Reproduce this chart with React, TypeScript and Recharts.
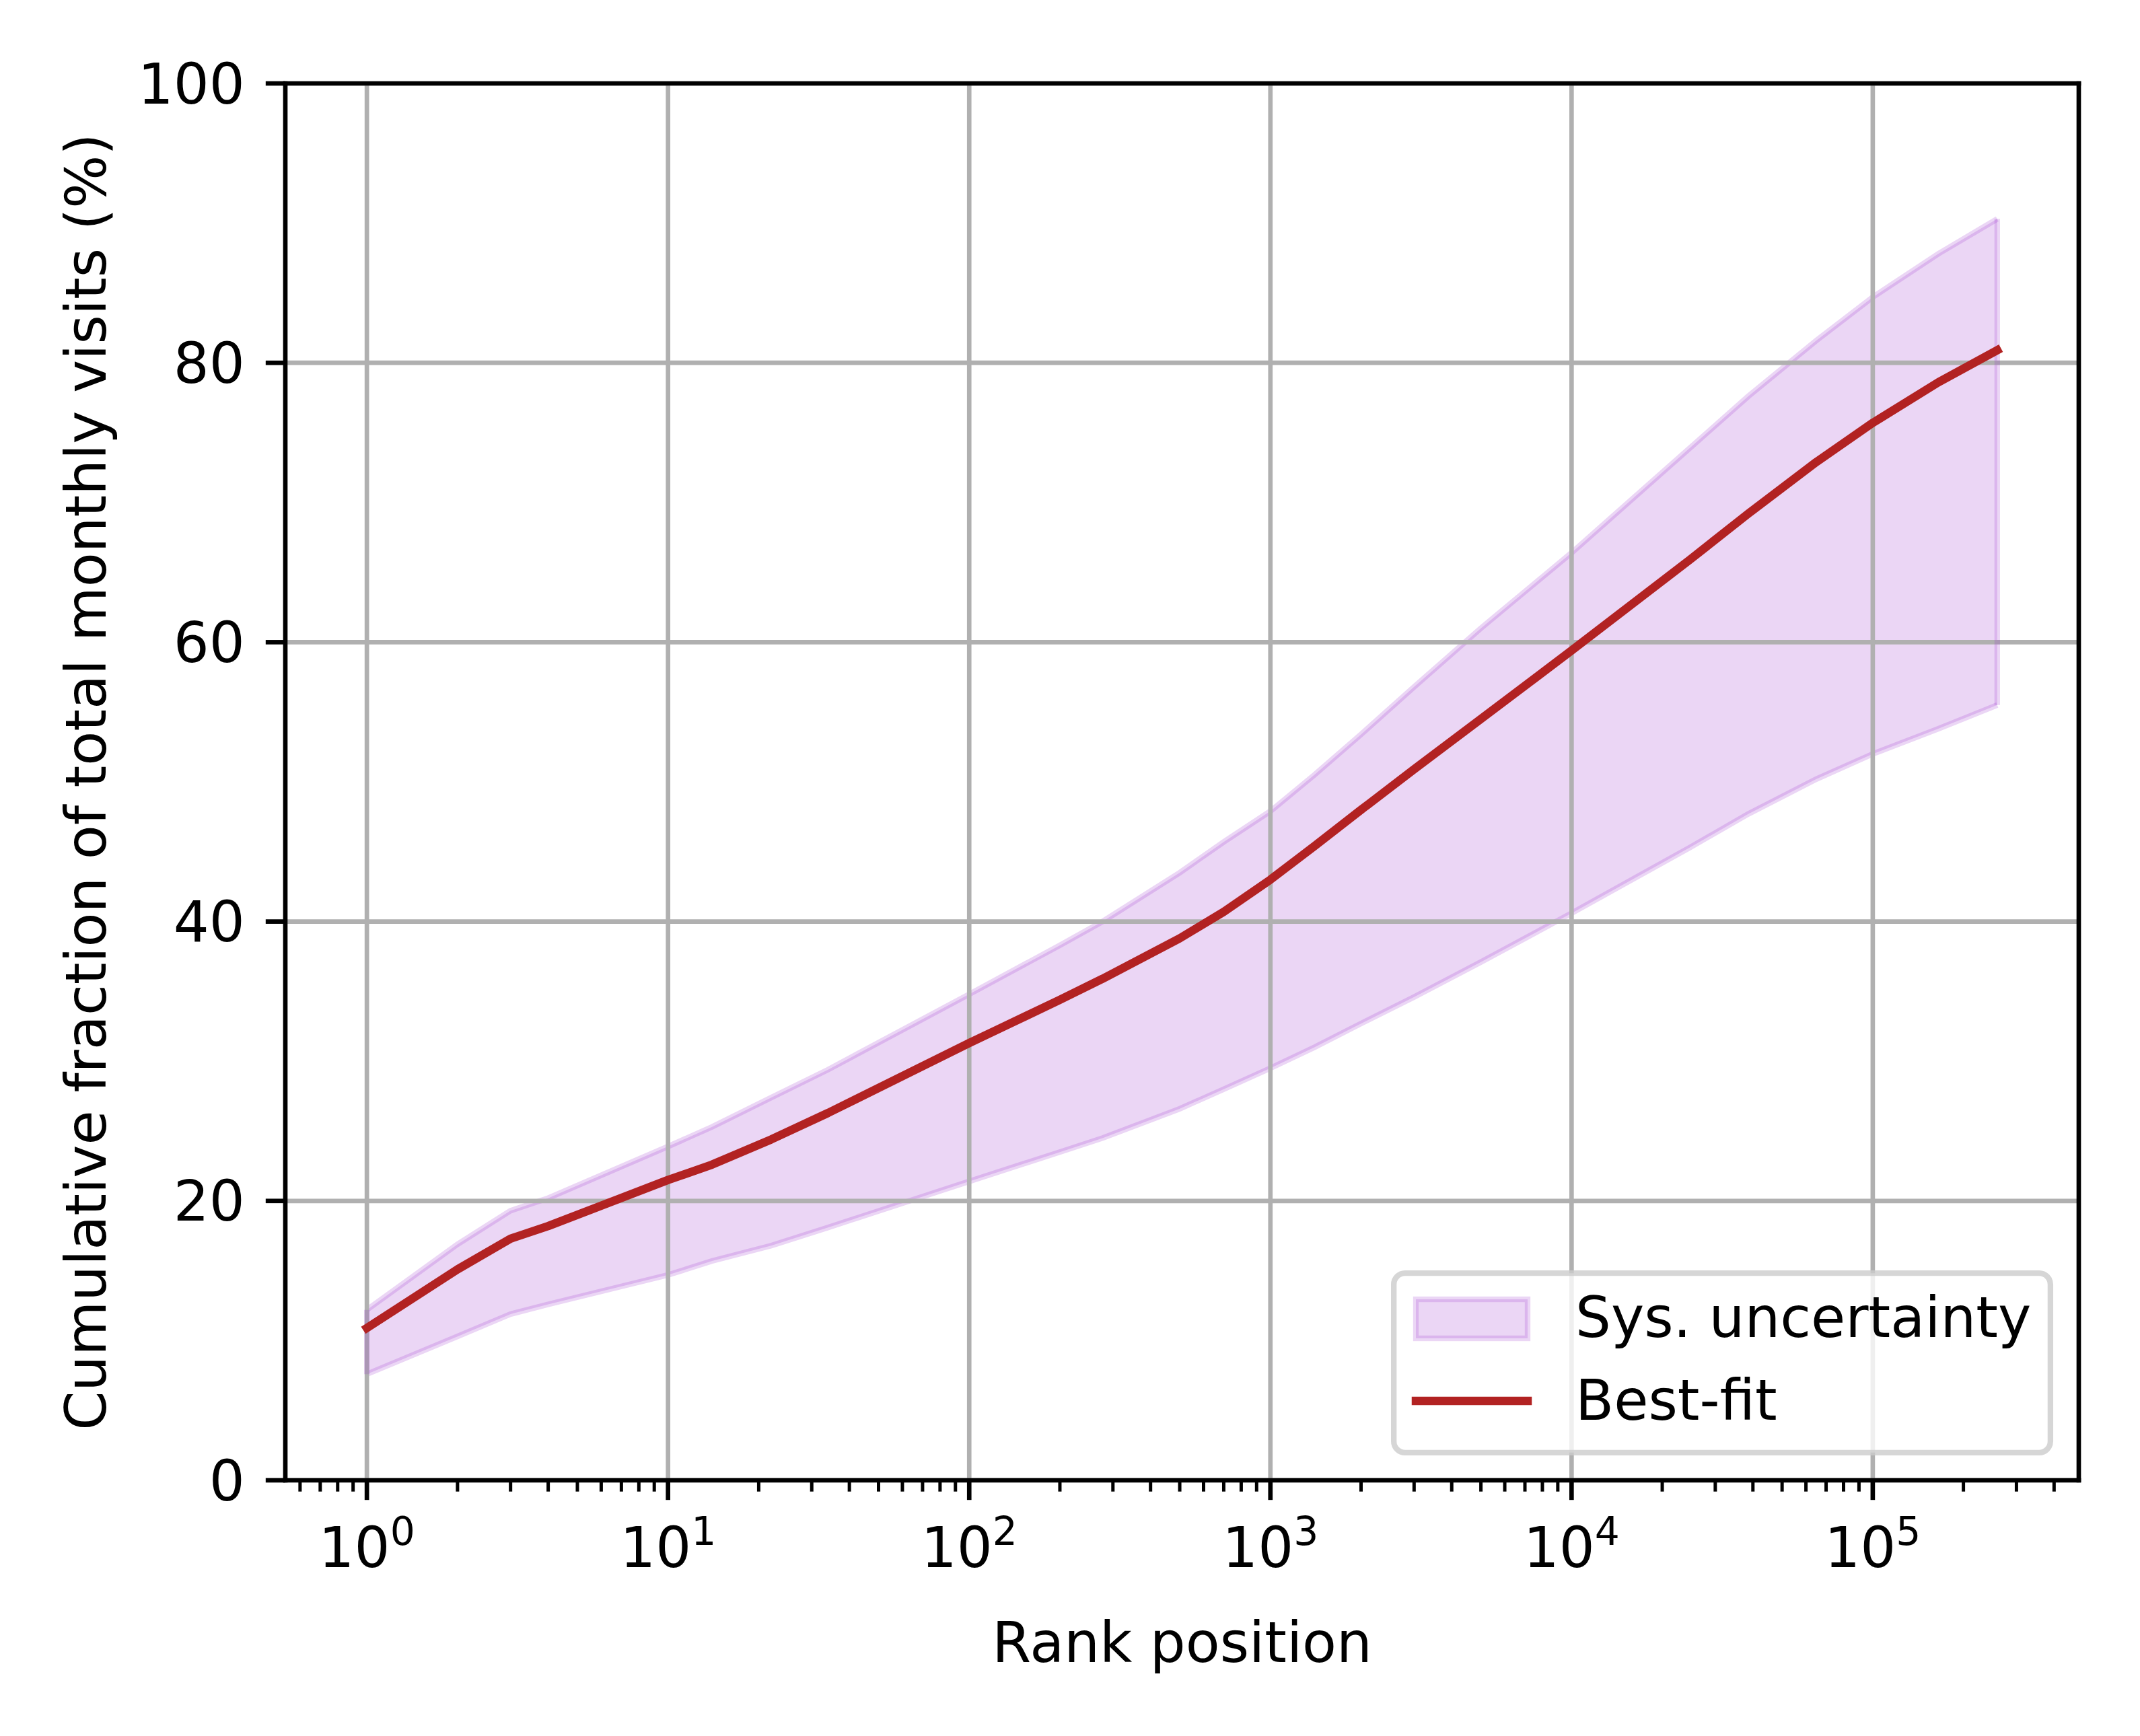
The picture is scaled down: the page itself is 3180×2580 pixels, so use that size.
import React from 'react';
import { ComposedChart, Area, Line, XAxis, YAxis, CartesianGrid, ReferenceLine, Legend } from 'recharts';

const ranks = [1, 2, 3, 4, 10, 14, 22, 34, 100, 200, 277, 500, 700, 1000, 1400, 2000, 3000, 5000, 10000, 24700, 38600, 65000, 100000, 165000, 259000];
const upperBound = [12.2, 16.9, 19.3, 20.2, 23.9, 25.3, 27.4, 29.4, 34.8, 38.3, 40.0, 43.5, 45.7, 47.9, 50.5, 53.4, 56.8, 61.0, 66.4, 73.9, 77.6, 81.6, 84.7, 87.8, 90.3];
const bestFit = [10.9, 15.1, 17.3, 18.2, 21.5, 22.6, 24.4, 26.3, 31.3, 34.4, 35.9, 38.8, 40.7, 43.0, 45.4, 48.0, 50.9, 54.5, 59.4, 65.9, 69.2, 72.9, 75.7, 78.6, 80.9];
const lowerBound = [7.6, 10.3, 11.9, 12.6, 14.7, 15.7, 16.8, 18.1, 21.4, 23.5, 24.5, 26.6, 28.0, 29.5, 31.0, 32.7, 34.6, 37.1, 40.6, 45.3, 47.7, 50.2, 52.0, 53.8, 55.5];

const majorXTicks = [1, 10, 100, 1000, 10000, 100000];
const xExponents = ['0', '1', '2', '3', '4', '5'];
const minorXTicks = [
  0.6, 0.7, 0.8, 0.9,
  2, 3, 4, 5, 6, 7, 8, 9,
  20, 30, 40, 50, 60, 70, 80, 90,
  200, 300, 400, 500, 600, 700, 800, 900,
  2000, 3000, 4000, 5000, 6000, 7000, 8000, 9000,
  20000, 30000, 40000, 50000, 60000, 70000, 80000, 90000,
  200000, 300000, 400000,
];
const yTicks = [0, 20, 40, 60, 80, 100];
const seriesNames = ['Sys. uncertainty', 'Best-fit'];
const xLabel = 'Rank position';
const yLabel = 'Cumulative fraction of total monthly visits (%)';

const data = ranks.map((r, i) => ({ rank: r, band: [lowerBound[i], upperBound[i]], best: bestFit[i] }));
const allXTicks = [...minorXTicks, ...majorXTicks].sort((a, b) => a - b);
const xDomain = [Math.pow(10, -0.2707), Math.pow(10, 5.684)];
const yDomain = [0, 100];

const FONT = '"DejaVu Sans", sans-serif';
const FS = 83.33;
const BAND = '#9932cc';
const LINE = '#b22222';
const LW = 6.67;

const XTick = (props: any) => {
  const { x, y, payload } = props;
  const v = payload.value;
  const idx = majorXTicks.indexOf(v);
  const major = idx >= 0;
  return (
    <g>
      <line x1={x} x2={x} y1={y} y2={y + (major ? 29.2 : 16.7)} stroke="#000" strokeWidth={major ? LW : 5} />
      {major && (
        <text x={x} y={y + 129} textAnchor="middle" fontFamily={FONT} fontSize={FS} fill="#000">
          10<tspan dy={-33} fontSize={58.3}>{xExponents[idx]}</tspan>
        </text>
      )}
    </g>
  );
};

const XLabel = (props: any) => {
  const vb = props.viewBox || { x: 424, y: 2200, width: 2665, height: 380 };
  const cx = vb.x + vb.width / 2;
  return (
    <text x={cx} y={2470} textAnchor="middle" fontFamily={FONT} fontSize={FS} fill="#000">
      {xLabel}
    </text>
  );
};

const YLabel = (props: any) => {
  const vb = props.viewBox || { x: 0, y: 124, width: 424, height: 2076 };
  const cy = vb.y + vb.height / 2;
  return (
    <text transform={`translate(157, ${cy}) rotate(-90)`} x={0} y={0} textAnchor="middle" fontFamily={FONT} fontSize={FS} fill="#000">
      {yLabel}
    </text>
  );
};

const LegendBox = () => (
  <svg width={984} height={275} style={{ display: 'block', overflow: 'visible' }}>
    <rect x={4.17} y={4.17} width={975.7} height={266.7} rx={16.7} ry={16.7} fill="#ffffff" fillOpacity={0.8} stroke="#cccccc" strokeOpacity={0.8} strokeWidth={8.33} />
    <rect x={37} y={43} width={166} height={58} fill={BAND} fillOpacity={0.2} stroke={BAND} strokeOpacity={0.2} strokeWidth={8.33} />
    <line x1={37} x2={203} y1={194} y2={194} stroke={LINE} strokeWidth={12.5} strokeLinecap="square" />
    <text x={274} y={99} fontFamily={FONT} fontSize={FS} fill="#000">{seriesNames[0]}</text>
    <text x={274} y={222} fontFamily={FONT} fontSize={FS} fill="#000">{seriesNames[1]}</text>
  </svg>
);

export default function App() {
  const last = ranks.length - 1;
  return (
    <div style={{ position: 'absolute', left: 0, top: 0, width: 3180, height: 2580, background: '#fff', fontFamily: FONT }}>
      <ComposedChart width={3180} height={2580} data={data} margin={{ top: 124, right: 91, bottom: 0, left: 0 }}>
        <CartesianGrid stroke="#b0b0b0" strokeWidth={LW} verticalValues={majorXTicks} horizontalValues={yTicks} zIndex={150} />
        <XAxis
          dataKey="rank"
          type="number"
          scale="log"
          domain={xDomain}
          allowDataOverflow
          ticks={allXTicks}
          interval={0}
          tick={XTick}
          tickLine={false}
          tickSize={0}
          tickMargin={0}
          height={380}
          axisLine={{ stroke: '#000', strokeWidth: LW, strokeLinecap: 'square' }}
          label={XLabel}
        />
        <YAxis
          type="number"
          domain={yDomain}
          ticks={yTicks}
          interval={0}
          width={424}
          tickSize={29.2}
          tickMargin={31}
          tick={{ fontSize: FS, fill: '#000', fontFamily: FONT }}
          tickLine={{ stroke: '#000', strokeWidth: LW }}
          axisLine={{ stroke: '#000', strokeWidth: LW, strokeLinecap: 'square' }}
          label={YLabel}
        />
        <Area
          dataKey="band"
          name={seriesNames[0]}
          type="linear"
          fill={BAND}
          fillOpacity={0.2}
          stroke={BAND}
          strokeOpacity={0.2}
          strokeWidth={8.33}
          dot={false}
          activeDot={false}
          isAnimationActive={false}
        />
        <ReferenceLine
          segment={[{ x: ranks[0], y: lowerBound[0] }, { x: ranks[0], y: upperBound[0] }]}
          stroke={BAND}
          strokeOpacity={0.2}
          strokeWidth={8.33}
        />
        <ReferenceLine
          segment={[{ x: ranks[last], y: lowerBound[last] }, { x: ranks[last], y: upperBound[last] }]}
          stroke={BAND}
          strokeOpacity={0.2}
          strokeWidth={8.33}
        />
        <Line
          dataKey="best"
          name={seriesNames[1]}
          type="linear"
          stroke={LINE}
          strokeWidth={12.5}
          strokeLinecap="square"
          strokeLinejoin="round"
          dot={false}
          activeDot={false}
          isAnimationActive={false}
        />
        <ReferenceLine y={yDomain[1]} stroke="#000" strokeWidth={LW} strokeLinecap="square" ifOverflow="extendDomain" />
        <ReferenceLine x={xDomain[1]} stroke="#000" strokeWidth={LW} strokeLinecap="square" ifOverflow="extendDomain" />
        <Legend
          layout="vertical"
          align="center"
          verticalAlign="middle"
          content={() => <LegendBox />}
          wrapperStyle={{ left: 2067, top: 1888, right: 'auto', bottom: 'auto', width: 984, height: 275 }}
        />
      </ComposedChart>
    </div>
  );
}
